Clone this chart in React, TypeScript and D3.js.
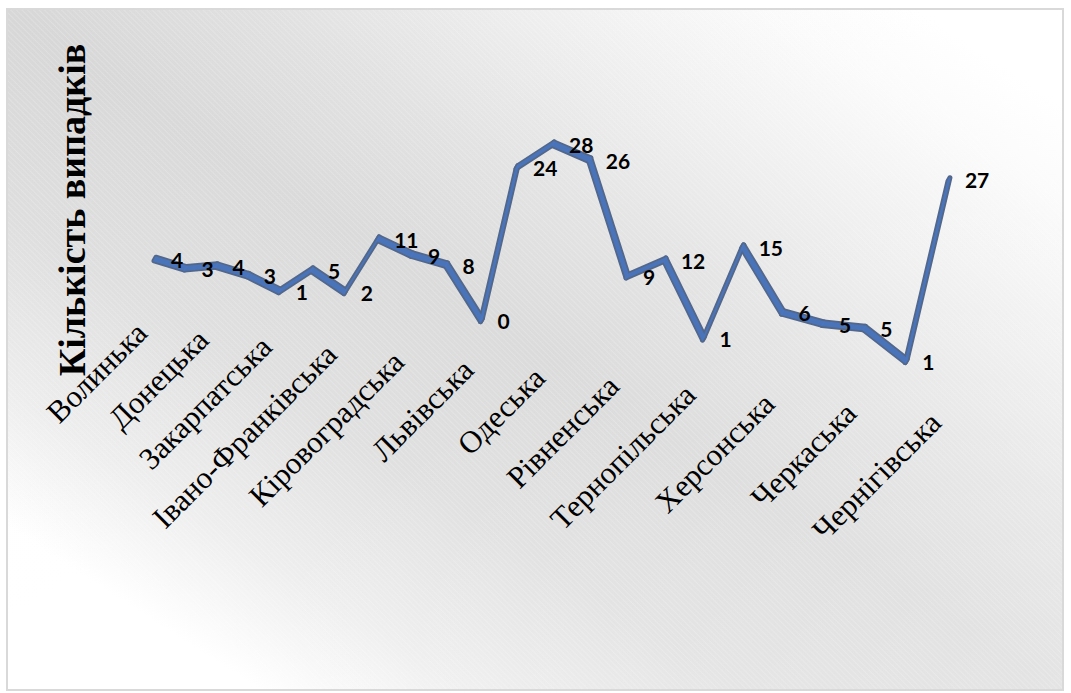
import React from "react";
import * as d3 from "d3";

const categories = [
  "Волинька", "Дніпропетровська", "Донецька", "Житомирська", "Закарпатська",
  "Запорізька", "Івано-Франківська", "Київська", "Кіровоградська", "Луганська",
  "Львівська", "Миколаївська", "Одеська", "Полтавська", "Рівненська", "Сумська",
  "Тернопільська", "Харківська", "Херсонська", "Хмельницька", "Черкаська",
  "Чернівецька", "Чернігівська",
];
const values = [4, 3, 4, 3, 1, 5, 2, 11, 9, 8, 0, 24, 28, 26, 9, 12, 1, 15, 6, 5, 5, 1, 27];
const axisTitle = "Кількість випадків";
const labelEvery = 2;

const W = 1071;
const H = 693;

export default function App() {
  const n = categories.length;
  const idx = d3.scalePoint<string>().domain(categories).range([0, n - 1]);
  // perspective: depth factor shrinks along the category axis
  const depth = d3.scaleLinear().domain([0, n - 1]).range([1, 0.838]);
  const xWorld = d3.scaleLinear().domain([0, n - 1]).range([155, 155 + 29.1 * (n - 1)]);
  const floorWorld = d3.scaleLinear().domain([0, n - 1]).range([283, 283 + 1.336 * (n - 1)]);
  const yWorld = d3.scaleLinear().domain([0, 30]).range([0, 180]);

  const px = (c: string) => xWorld(idx(c)!) / depth(idx(c)!);
  const py = (c: string, v: number) => (floorWorld(idx(c)!) - yWorld(v)) / depth(idx(c)!);
  const floorY = (c: string) => floorWorld(idx(c)!) / depth(idx(c)!);

  const pts = categories.map((c, i) => [px(c), py(c, values[i])] as [number, number]);
  const d: [number, number] = [-2, 3.5];
  const poly = d3.line().curve(d3.curveLinearClosed);

  const segs = pts.slice(1).map((b, i) => {
    const a = pts[i];
    const a0: [number, number] = [a[0] - d[0] / 2, a[1] - d[1] / 2];
    const b0: [number, number] = [b[0] - d[0] / 2, b[1] - d[1] / 2];
    const a1: [number, number] = [a[0] + d[0] / 2, a[1] + d[1] / 2];
    const b1: [number, number] = [b[0] + d[0] / 2, b[1] + d[1] / 2];
    return poly([a0, b0, b1, a1]) as string;
  });

  return (
    <svg width={W} height={H} style={{ position: "absolute", left: 0, top: 0 }}>
      <defs>
        <linearGradient id="bg" x1="0" y1="1" x2="1" y2="0">
          <stop offset="0" stopColor="#ffffff" />
          <stop offset="0.12" stopColor="#ffffff" />
          <stop offset="0.22" stopColor="#eeeeee" />
          <stop offset="0.35" stopColor="#e0e0e0" />
          <stop offset="0.5" stopColor="#dbdbdb" />
          <stop offset="0.62" stopColor="#e3e3e3" />
          <stop offset="0.75" stopColor="#f0f0f0" />
          <stop offset="0.86" stopColor="#fbfbfb" />
          <stop offset="0.93" stopColor="#ffffff" />
          <stop offset="1" stopColor="#ffffff" />
        </linearGradient>
        <linearGradient id="bg2" x1="0" y1="0" x2="1" y2="1">
          <stop offset="0" stopColor="#000000" stopOpacity="0.02" />
          <stop offset="0.5" stopColor="#ffffff" stopOpacity="0" />
          <stop offset="1" stopColor="#ffffff" stopOpacity="0.25" />
        </linearGradient>
        <pattern id="hatch" width="4" height="4" patternUnits="userSpaceOnUse" patternTransform="rotate(-45)">
          <line x1="0" y1="0" x2="0" y2="4" stroke="#ffffff" strokeWidth="1" strokeOpacity="0.35" />
        </pattern>
      </defs>
      <rect x={0} y={0} width={W} height={H} fill="#ffffff" />
      <rect x={7} y={9} width={1056} height={681} fill="url(#bg)" />
      <rect x={7} y={9} width={1056} height={681} fill="url(#bg2)" />
      <rect x={7} y={9} width={1056} height={681} fill="url(#hatch)" />
      <rect x={7} y={9} width={1056} height={681} fill="none" stroke="#d9d9d9" strokeWidth={2} />

      <text
        transform={`translate(85,210) rotate(-90)`}
        textAnchor="middle"
        fontFamily="'Liberation Serif', 'Times New Roman', serif"
        fontWeight="bold"
        fontSize={38}
        fill="#000"
      >
        {axisTitle}
      </text>

      <g>
        {segs.map((s, i) => (
          <path key={i} d={s} fill="#4a72b4" stroke="#52678a" strokeWidth={5} strokeLinejoin="round" />
        ))}
        {segs.map((s, i) => (
          <path key={"h" + i} d={s} fill="#4a76c0" stroke="#4a76c0" strokeWidth={1.5} opacity={0.9} />
        ))}
      </g>

      <g fontFamily="Lato, 'Open Sans', sans-serif" fontWeight="bold" fontSize={21} fill="#000">
        {categories.map((c, i) => (
          <text key={c} x={px(c) + 16} y={py(c, values[i]) + 9}>
            {values[i]}
          </text>
        ))}
      </g>

      <g fontFamily="'Liberation Serif', 'Times New Roman', serif" fontSize={31} fill="#000">
        {categories.map((c, i) =>
          i % labelEvery === 0 ? (
            <text
              key={c}
              textAnchor="end"
              transform={`translate(${px(c) - 6},${floorY(c) + 52}) rotate(-45)`}
            >
              {c}
            </text>
          ) : null
        )}
      </g>
    </svg>
  );
}
